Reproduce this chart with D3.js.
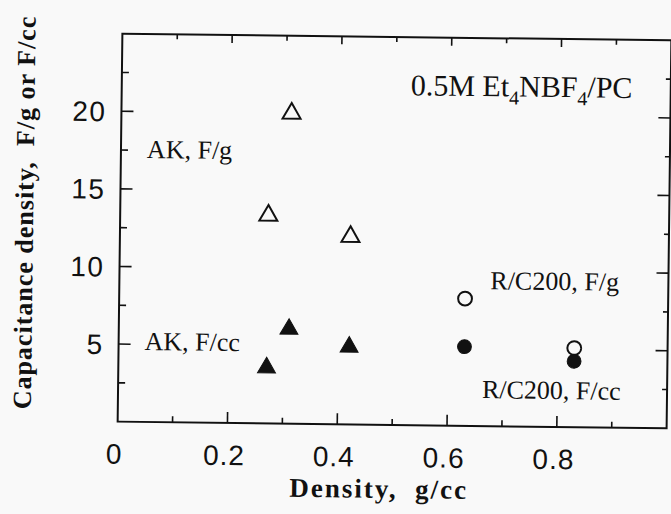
<!DOCTYPE html>
<html lang="en">
<head>
<meta charset="UTF-8">
<title>capacitance density</title>
<script type="text/javascript" src="https://cdn.jsdelivr.net/npm/d3@7/dist/d3.min.js"></script>
<style>
  body { margin: 0; background: #f9f9f9; }
  svg { display: block; }
</style>
</head>
<body>
<svg></svg>
<script>
// data
var akDensity = [0.27, 0.31, 0.42];
var akFg = [13.4, 20.0, 12.1];
var akFcc = [3.6, 6.1, 5.0];
var rcDensity = [0.63, 0.83];
var rcFg = [8.2, 5.1];
var rcFcc = [5.1, 4.25];
var xTickLabels = [0, 0.2, 0.4, 0.6, 0.8];
var yTickLabels = [5, 10, 15, 20];

var W = 671, H = 514;
var margin = { top: 37, left: 120, bottom: 89, right: 2 };
var width = W - margin.left - margin.right;
var height = H - margin.top - margin.bottom;

var svg = d3.select('svg')
    .attr('width', W)
    .attr('height', H);

svg.append('rect').attr('width', W).attr('height', H).attr('fill', '#f9f9f9');

// the scan is a little tilted, so tilt the whole thing
var g = svg.append('g')
    .attr('transform', 'rotate(0.7,' + (margin.left + width / 2) + ',' + (margin.top + height / 2) + ') translate(' + margin.left + ',' + margin.top + ')');

var x = d3.scaleLinear().domain([0, 1]).range([0, width]);
var y = d3.scaleLinear().domain([0, 25]).range([height, 0]);

var minorX = d3.range(1, 10).map(function (i) { return i / 10; });
var minorY = d3.range(1, 10).map(function (i) { return i * 2.5; });

// frame
g.append('rect')
    .attr('width', width).attr('height', height)
    .attr('fill', 'none').attr('stroke', '#111').attr('stroke-width', 2);

function tickLen(v, majors, big, small) {
    return majors.indexOf(Math.round(v * 100) / 100) >= 0 ? big : small;
}

// bottom ticks, pointing in
g.append('g')
    .attr('transform', 'translate(0,' + height + ')')
    .selectAll('line').data(minorX).enter().append('line')
    .attr('x1', function (d) { return x(d); }).attr('x2', function (d) { return x(d); })
    .attr('y1', 0).attr('y2', function (d) { return -tickLen(d, xTickLabels, 11, 6); })
    .attr('stroke', '#111').attr('stroke-width', 1.6);

// top ticks
g.append('g')
    .selectAll('line').data(minorX).enter().append('line')
    .attr('x1', function (d) { return x(d); }).attr('x2', function (d) { return x(d); })
    .attr('y1', 0).attr('y2', function (d) { return tickLen(d, xTickLabels, 8, 5); })
    .attr('stroke', '#111').attr('stroke-width', 1.6);

// left ticks
g.append('g')
    .selectAll('line').data(minorY).enter().append('line')
    .attr('y1', function (d) { return y(d); }).attr('y2', function (d) { return y(d); })
    .attr('x1', 0).attr('x2', function (d) { return tickLen(d, yTickLabels, 12, 7); })
    .attr('stroke', '#111').attr('stroke-width', 1.6);

// right ticks
g.append('g')
    .attr('transform', 'translate(' + width + ',0)')
    .selectAll('line').data(minorY).enter().append('line')
    .attr('y1', function (d) { return y(d); }).attr('y2', function (d) { return y(d); })
    .attr('x1', 0).attr('x2', function (d) { return -tickLen(d, yTickLabels, 12, 5); })
    .attr('stroke', '#111').attr('stroke-width', 1.6);

// tick labels
g.append('g').selectAll('text').data(xTickLabels).enter().append('text')
    .attr('x', function (d) { return x(d) - 3; })
    .attr('y', height + 42)
    .attr('text-anchor', 'middle')
    .style('font-family', '"Liberation Sans", Arial, sans-serif')
    .style('font-size', '28px')
    .style('letter-spacing', '1px')
    .attr('fill', '#111')
    .text(function (d) { return d === 0 ? '0' : d3.format('.1f')(d); });

g.append('g').selectAll('text').data(yTickLabels).enter().append('text')
    .attr('x', -15)
    .attr('y', function (d) { return y(d); })
    .attr('dy', '0.36em')
    .attr('text-anchor', 'end')
    .style('font-family', '"Liberation Sans", Arial, sans-serif')
    .style('font-size', '28px')
    .style('letter-spacing', '1.5px')
    .attr('fill', '#111')
    .text(function (d) { return d; });

// axis titles
g.append('text')
    .attr('x', 262)
    .attr('y', height + 73)
    .attr('text-anchor', 'middle')
    .style('font-family', '"Liberation Serif", "Times New Roman", serif')
    .style('font-weight', 'bold')
    .style('font-size', '27px')
    .style('letter-spacing', '2px')
    .style('white-space', 'pre')
    .attr('fill', '#111')
    .text('Density,  g/cc');

g.append('text')
    .attr('transform', 'translate(' + (-87) + ',' + (height / 2 - 14) + ') rotate(-90)')
    .attr('text-anchor', 'middle')
    .style('font-family', '"Liberation Serif", "Times New Roman", serif')
    .style('font-weight', 'bold')
    .style('font-size', '26px')
    .style('letter-spacing', '1px')
    .style('white-space', 'pre')
    .attr('fill', '#111')
    .text('Capacitance density,  F/g or F/cc');

// markers
var tri = d3.symbol().type(d3.symbolTriangle).size(140);
var circ = d3.symbol().type(d3.symbolCircle).size(150);

g.append('g').selectAll('path').data(akDensity).enter().append('path')
    .attr('d', tri)
    .attr('transform', function (d, i) { return 'translate(' + x(d) + ',' + y(akFg[i]) + ')'; })
    .attr('fill', 'none').attr('stroke', '#111').attr('stroke-width', 2);

g.append('g').selectAll('path').data(akDensity).enter().append('path')
    .attr('d', tri)
    .attr('transform', function (d, i) { return 'translate(' + x(d) + ',' + y(akFcc[i]) + ')'; })
    .attr('fill', '#111').attr('stroke', '#111').attr('stroke-width', 1);

g.append('g').selectAll('path').data(rcDensity).enter().append('path')
    .attr('d', circ)
    .attr('transform', function (d, i) { return 'translate(' + x(d) + ',' + y(rcFg[i]) + ')'; })
    .attr('fill', '#f9f9f9').attr('stroke', '#111').attr('stroke-width', 2);

g.append('g').selectAll('path').data(rcDensity).enter().append('path')
    .attr('d', circ)
    .attr('transform', function (d, i) { return 'translate(' + x(d) + ',' + y(rcFcc[i]) + ')'; })
    .attr('fill', '#111').attr('stroke', '#111').attr('stroke-width', 1);

// annotations
function note(px, py, txt) {
    return g.append('text')
        .attr('x', px).attr('y', py)
        .style('font-family', '"Liberation Serif", "Times New Roman", serif')
        .style('font-size', '26px')
        .attr('fill', '#111')
        .text(txt);
}
note(26, 124, 'AK, F/g');
note(26, 316, 'AK, F/cc');
note(371, 251, 'R/C200, F/g');
note(364, 360, 'R/C200, F/cc');

var title = g.append('text')
    .attr('x', 289).attr('y', 58)
    .style('font-family', '"Liberation Serif", "Times New Roman", serif')
    .style('font-size', '30px')
    .attr('fill', '#111');
title.append('tspan').text('0.5M Et');
title.append('tspan').attr('dy', 8).style('font-size', '20px').text('4');
title.append('tspan').attr('dy', -8).text('NBF');
title.append('tspan').attr('dy', 8).style('font-size', '20px').text('4');
title.append('tspan').attr('dy', -8).text('/PC');
</script>
</body>
</html>
